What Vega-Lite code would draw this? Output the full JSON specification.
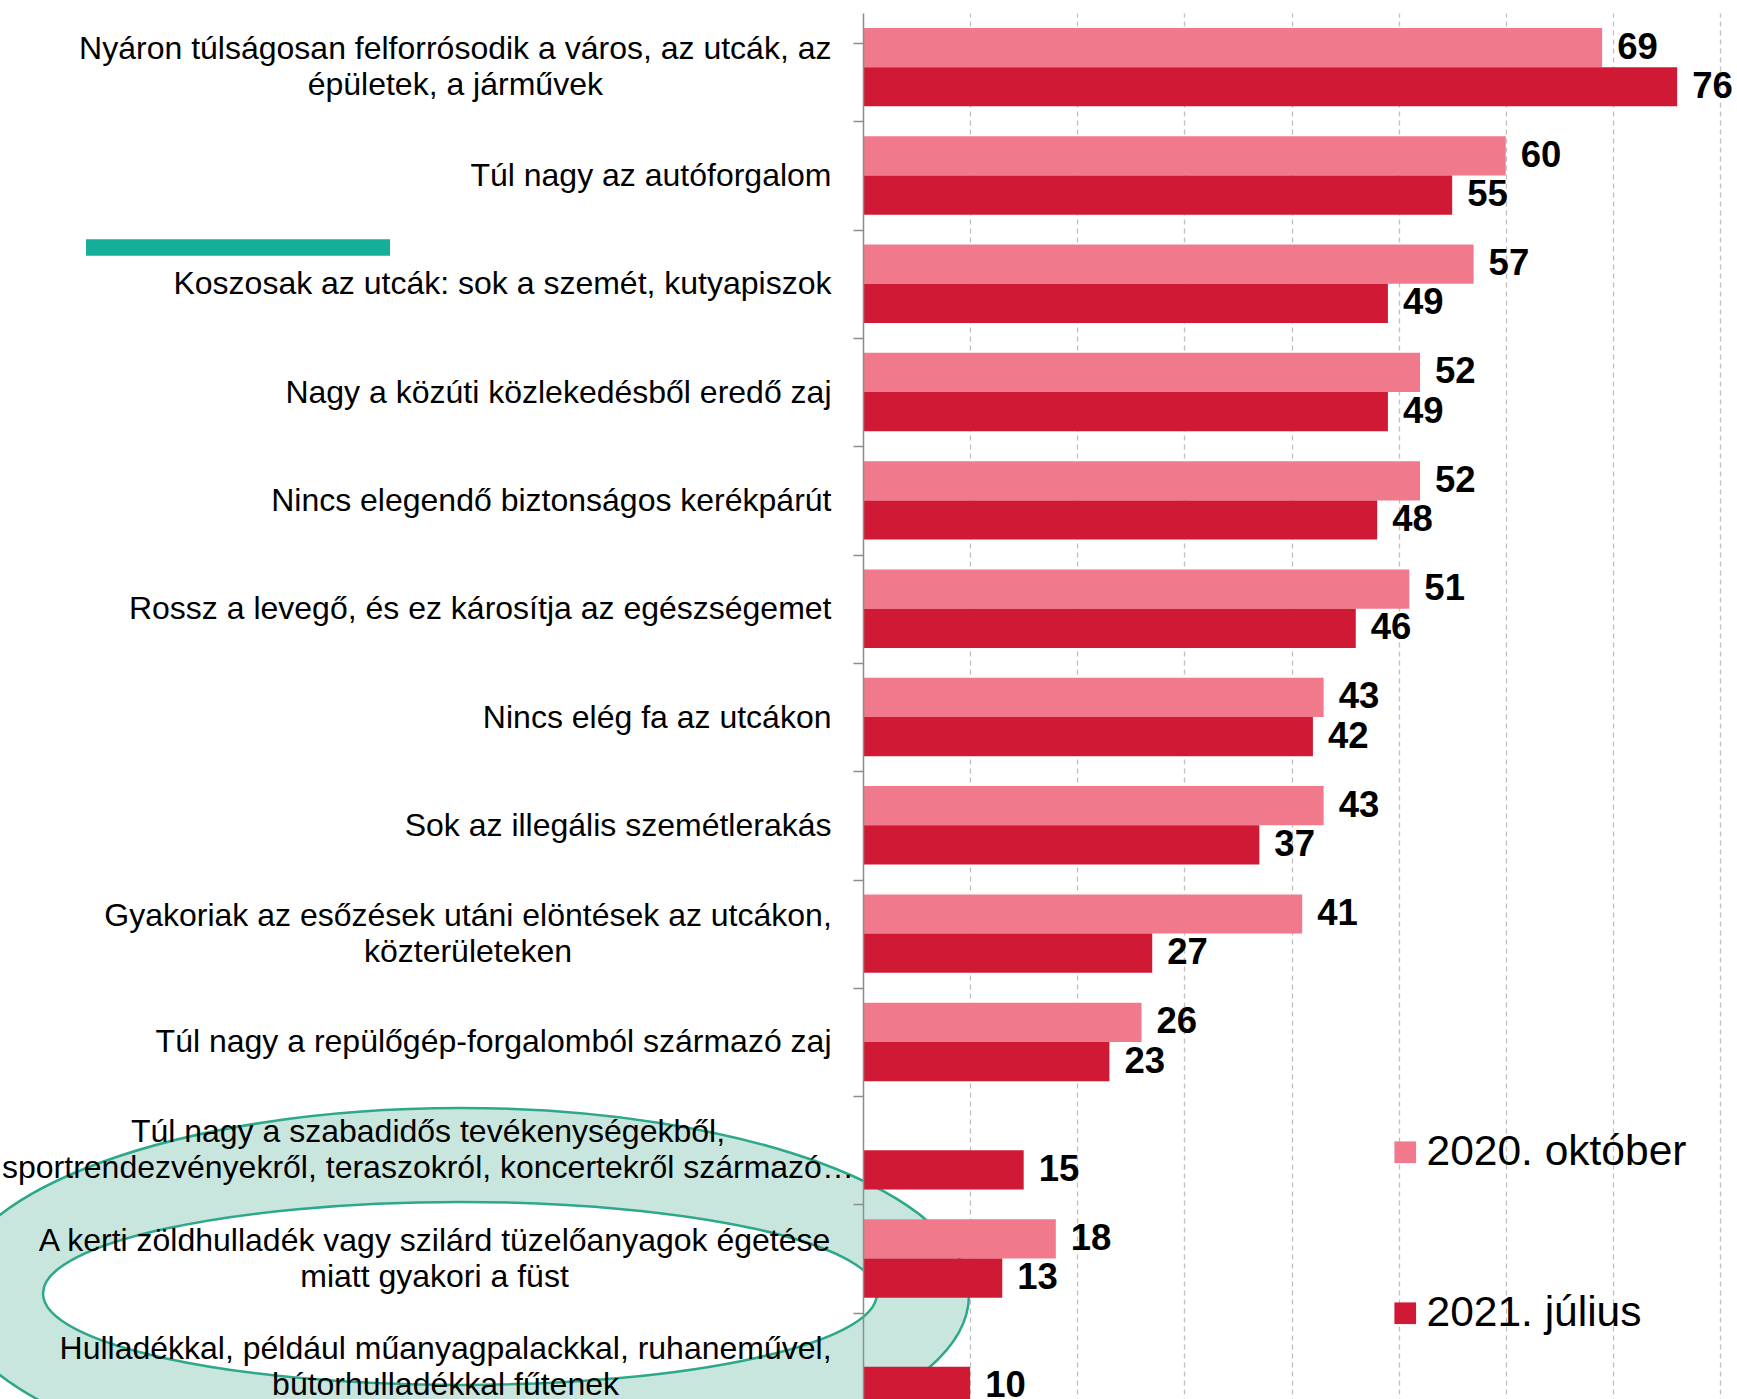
{
  "$schema": "https://vega.github.io/schema/vega-lite/v6.json",
  "width": 857,
  "height": 1408,
  "autosize": {"type": "none"},
  "padding": {"left": 863, "top": 13, "right": 17, "bottom": -22},
  "background": "white",
  "config": {
    "view": {"stroke": null},
    "font": "Liberation Sans",
    "text": {"font": "Liberation Sans"}
  },
  "data": {
    "values": [
      {"cat": "Nyáron túlságosan felforrósodik a város, az utcák, az|épületek, a járművek", "period": "2020. október", "value": 69},
      {"cat": "Nyáron túlságosan felforrósodik a város, az utcák, az|épületek, a járművek", "period": "2021. július", "value": 76},
      {"cat": "Túl nagy az autóforgalom", "period": "2020. október", "value": 60},
      {"cat": "Túl nagy az autóforgalom", "period": "2021. július", "value": 55},
      {"cat": "Koszosak az utcák: sok a szemét, kutyapiszok", "period": "2020. október", "value": 57},
      {"cat": "Koszosak az utcák: sok a szemét, kutyapiszok", "period": "2021. július", "value": 49},
      {"cat": "Nagy a közúti közlekedésből eredő zaj", "period": "2020. október", "value": 52},
      {"cat": "Nagy a közúti közlekedésből eredő zaj", "period": "2021. július", "value": 49},
      {"cat": "Nincs elegendő biztonságos kerékpárút", "period": "2020. október", "value": 52},
      {"cat": "Nincs elegendő biztonságos kerékpárút", "period": "2021. július", "value": 48},
      {"cat": "Rossz a levegő, és ez károsítja az egészségemet", "period": "2020. október", "value": 51},
      {"cat": "Rossz a levegő, és ez károsítja az egészségemet", "period": "2021. július", "value": 46},
      {"cat": "Nincs elég fa az utcákon", "period": "2020. október", "value": 43},
      {"cat": "Nincs elég fa az utcákon", "period": "2021. július", "value": 42},
      {"cat": "Sok az illegális szemétlerakás", "period": "2020. október", "value": 43},
      {"cat": "Sok az illegális szemétlerakás", "period": "2021. július", "value": 37},
      {"cat": "Gyakoriak az esőzések utáni elöntések az utcákon,|közterületeken", "period": "2020. október", "value": 41},
      {"cat": "Gyakoriak az esőzések utáni elöntések az utcákon,|közterületeken", "period": "2021. július", "value": 27},
      {"cat": "Túl nagy a repülőgép-forgalomból származó zaj", "period": "2020. október", "value": 26},
      {"cat": "Túl nagy a repülőgép-forgalomból származó zaj", "period": "2021. július", "value": 23},
      {"cat": "Túl nagy a szabadidős tevékenységekből,|sportrendezvényekről, teraszokról, koncertekről származó…", "period": "2021. július", "value": 15},
      {"cat": "A kerti zöldhulladék vagy szilárd tüzelőanyagok égetése|miatt gyakori a füst", "period": "2020. október", "value": 18},
      {"cat": "A kerti zöldhulladék vagy szilárd tüzelőanyagok égetése|miatt gyakori a füst", "period": "2021. július", "value": 13},
      {"cat": "Hulladékkal, például műanyagpalackkal, ruhaneművel,|bútorhulladékkal fűtenek", "period": "2021. július", "value": 10}
    ]
  },
  "layer": [
    {
      "data": {"values": [{"k": "outer"}]},
      "mark": {
        "type": "point",
        "shape": "M-1,0A1,0.3674,0,1,1,1,0A1,0.3674,0,1,1,-1,0Z",
        "size": 1036324,
        "filled": true,
        "fill": "#C9E6DE",
        "stroke": "#2EA88A",
        "strokeWidth": 2.5,
        "opacity": 1,
        "fillOpacity": 1
      },
      "encoding": {
        "x": {"datum": -37.62, "type": "quantitative", "title": null},
        "y": {"datum": "A kerti zöldhulladék vagy szilárd tüzelőanyagok égetése|miatt gyakori a füst", "type": "nominal", "bandPosition": 0.965, "title": null}
      }
    },
    {
      "data": {"values": [{"k": "inner"}]},
      "mark": {
        "type": "point",
        "shape": "M-1,0A1,0.2194,0,1,1,1,0A1,0.2194,0,1,1,-1,0Z",
        "size": 695556,
        "filled": true,
        "fill": "#FFFFFF",
        "stroke": "#2EA88A",
        "strokeWidth": 2.5,
        "opacity": 1,
        "fillOpacity": 1
      },
      "encoding": {
        "x": {"datum": -37.62, "type": "quantitative", "title": null},
        "y": {"datum": "A kerti zöldhulladék vagy szilárd tüzelőanyagok égetése|miatt gyakori a füst", "type": "nominal", "bandPosition": 0.9455, "title": null}
      }
    },
    {
      "data": {"values": [{"k": "rule"}]},
      "mark": {"type": "rule", "color": "#14AE99", "strokeWidth": 16.5, "strokeCap": "butt"},
      "encoding": {
        "x": {"datum": -72.53, "type": "quantitative", "title": null},
        "x2": {"datum": -44.15},
        "y": {"datum": "Koszosak az utcák: sok a szemét, kutyapiszok", "type": "nominal", "bandPosition": 0.038, "title": null}
      }
    },
    {
      "mark": {"type": "bar"},
      "encoding": {
        "x": {
          "field": "value",
          "type": "quantitative",
          "title": null,
          "scale": {"domain": [0, 80], "nice": false, "zero": true},
          "axis": {
            "grid": true,
            "labels": false,
            "ticks": false,
            "domain": false,
            "values": [10, 20, 30, 40, 50, 60, 70, 80],
            "gridDash": [5, 4],
            "gridColor": "#BFBFBF",
            "gridWidth": 1.3,
            "zindex": 0,
            "title": null
          }
        },
        "y": {
          "field": "cat",
          "type": "nominal",
          "title": null,
          "sort": null,
          "scale": {
            "domain": [
              "Nyáron túlságosan felforrósodik a város, az utcák, az|épületek, a járművek",
              "Túl nagy az autóforgalom",
              "Koszosak az utcák: sok a szemét, kutyapiszok",
              "Nagy a közúti közlekedésből eredő zaj",
              "Nincs elegendő biztonságos kerékpárút",
              "Rossz a levegő, és ez károsítja az egészségemet",
              "Nincs elég fa az utcákon",
              "Sok az illegális szemétlerakás",
              "Gyakoriak az esőzések utáni elöntések az utcákon,|közterületeken",
              "Túl nagy a repülőgép-forgalomból származó zaj",
              "Túl nagy a szabadidős tevékenységekből,|sportrendezvényekről, teraszokról, koncertekről származó…",
              "A kerti zöldhulladék vagy szilárd tüzelőanyagok égetése|miatt gyakori a füst",
              "Hulladékkal, például műanyagpalackkal, ruhaneművel,|bútorhulladékkal fűtenek"
            ],
            "paddingInner": 0.276,
            "paddingOuter": 0.138
          },
          "axis": {
            "title": null,
            "zindex": 1,
            "domainColor": "#8C8C8C",
            "domainWidth": 1.5,
            "tickColor": "#8C8C8C",
            "tickWidth": 1.5,
            "tickSize": 10,
            "bandPosition": 1,
            "tickExtra": true,
            "tickOffset": 15,
            "labelOffset": -15,
            "labelExpr": "indexof(datum.label, '|') >= 0 ? '' : datum.label",
            "labelFont": "Liberation Sans",
            "labelFontSize": 32,
            "labelColor": "#000000",
            "labelLimit": 1000,
            "labelPadding": 22
          }
        },
        "yOffset": {"field": "period", "type": "nominal", "scale": {"domain": ["2020. október", "2021. július"]}},
        "color": {
          "field": "period",
          "type": "nominal",
          "scale": {"domain": ["2020. október", "2021. július"], "range": ["#F07A8C", "#D01935"]},
          "legend": {
            "title": null,
            "orient": "none",
            "legendX": 521,
            "legendY": 1118,
            "padding": 0,
            "symbolType": "square",
            "symbolSize": 470,
            "symbolStrokeWidth": 0,
            "labelFont": "Liberation Sans",
            "labelFontSize": 42.5,
            "labelColor": "#000000",
            "labelOffset": 0,
            "rowPadding": 118,
            "labelLimit": 600
          }
        }
      }
    },
    {
      "mark": {"type": "text", "align": "left", "baseline": "middle", "dx": 15, "fontSize": 36.5, "fontWeight": "bold", "color": "#000000", "font": "Liberation Sans"},
      "encoding": {
        "x": {"field": "value", "type": "quantitative", "title": null},
        "y": {"field": "cat", "type": "nominal", "title": null, "sort": null},
        "yOffset": {"field": "period", "type": "nominal"},
        "text": {"field": "value", "type": "quantitative", "format": "d"}
      }
    },
    {
      "transform": [{"filter": "indexof(datum.cat, 'Nyáron') == 0 && datum.period == '2021. július'"}],
      "mark": {"type": "text", "align": "center", "baseline": "middle", "lineBreak": "|", "lineHeight": 36, "dy": -18, "fontSize": 32, "color": "#000000", "font": "Liberation Sans"},
      "encoding": {
        "x": {"datum": -38.06, "type": "quantitative", "title": null},
        "y": {"field": "cat", "type": "nominal", "title": null, "sort": null},
        "text": {"field": "cat", "type": "nominal"}
      }
    },
    {
      "transform": [{"filter": "indexof(datum.cat, 'Gyakoriak') == 0 && datum.period == '2021. július'"}],
      "mark": {"type": "text", "align": "center", "baseline": "middle", "lineBreak": "|", "lineHeight": 36, "dy": -18, "fontSize": 32, "color": "#000000", "font": "Liberation Sans"},
      "encoding": {
        "x": {"datum": -36.87, "type": "quantitative", "title": null},
        "y": {"field": "cat", "type": "nominal", "title": null, "sort": null},
        "text": {"field": "cat", "type": "nominal"}
      }
    },
    {
      "transform": [{"filter": "indexof(datum.cat, 'szabadid') >= 0"}],
      "mark": {"type": "text", "align": "center", "baseline": "middle", "lineBreak": "|", "lineHeight": 36, "dy": -18, "fontSize": 32, "color": "#000000", "font": "Liberation Sans"},
      "encoding": {
        "x": {"datum": -40.61, "type": "quantitative", "title": null},
        "y": {"field": "cat", "type": "nominal", "title": null, "sort": null},
        "text": {"field": "cat", "type": "nominal"}
      }
    },
    {
      "transform": [{"filter": "indexof(datum.cat, 'A kerti') == 0 && datum.period == '2021. július'"}],
      "mark": {"type": "text", "align": "center", "baseline": "middle", "lineBreak": "|", "lineHeight": 36, "dy": -18, "fontSize": 32, "color": "#000000", "font": "Liberation Sans"},
      "encoding": {
        "x": {"datum": -40.0, "type": "quantitative", "title": null},
        "y": {"field": "cat", "type": "nominal", "title": null, "sort": null},
        "text": {"field": "cat", "type": "nominal"}
      }
    },
    {
      "transform": [{"filter": "indexof(datum.cat, 'Hulladékkal') == 0"}],
      "mark": {"type": "text", "align": "center", "baseline": "middle", "lineBreak": "|", "lineHeight": 36, "dy": -18, "fontSize": 32, "color": "#000000", "font": "Liberation Sans"},
      "encoding": {
        "x": {"datum": -38.97, "type": "quantitative", "title": null},
        "y": {"field": "cat", "type": "nominal", "title": null, "sort": null},
        "text": {"field": "cat", "type": "nominal"}
      }
    }
  ]
}
